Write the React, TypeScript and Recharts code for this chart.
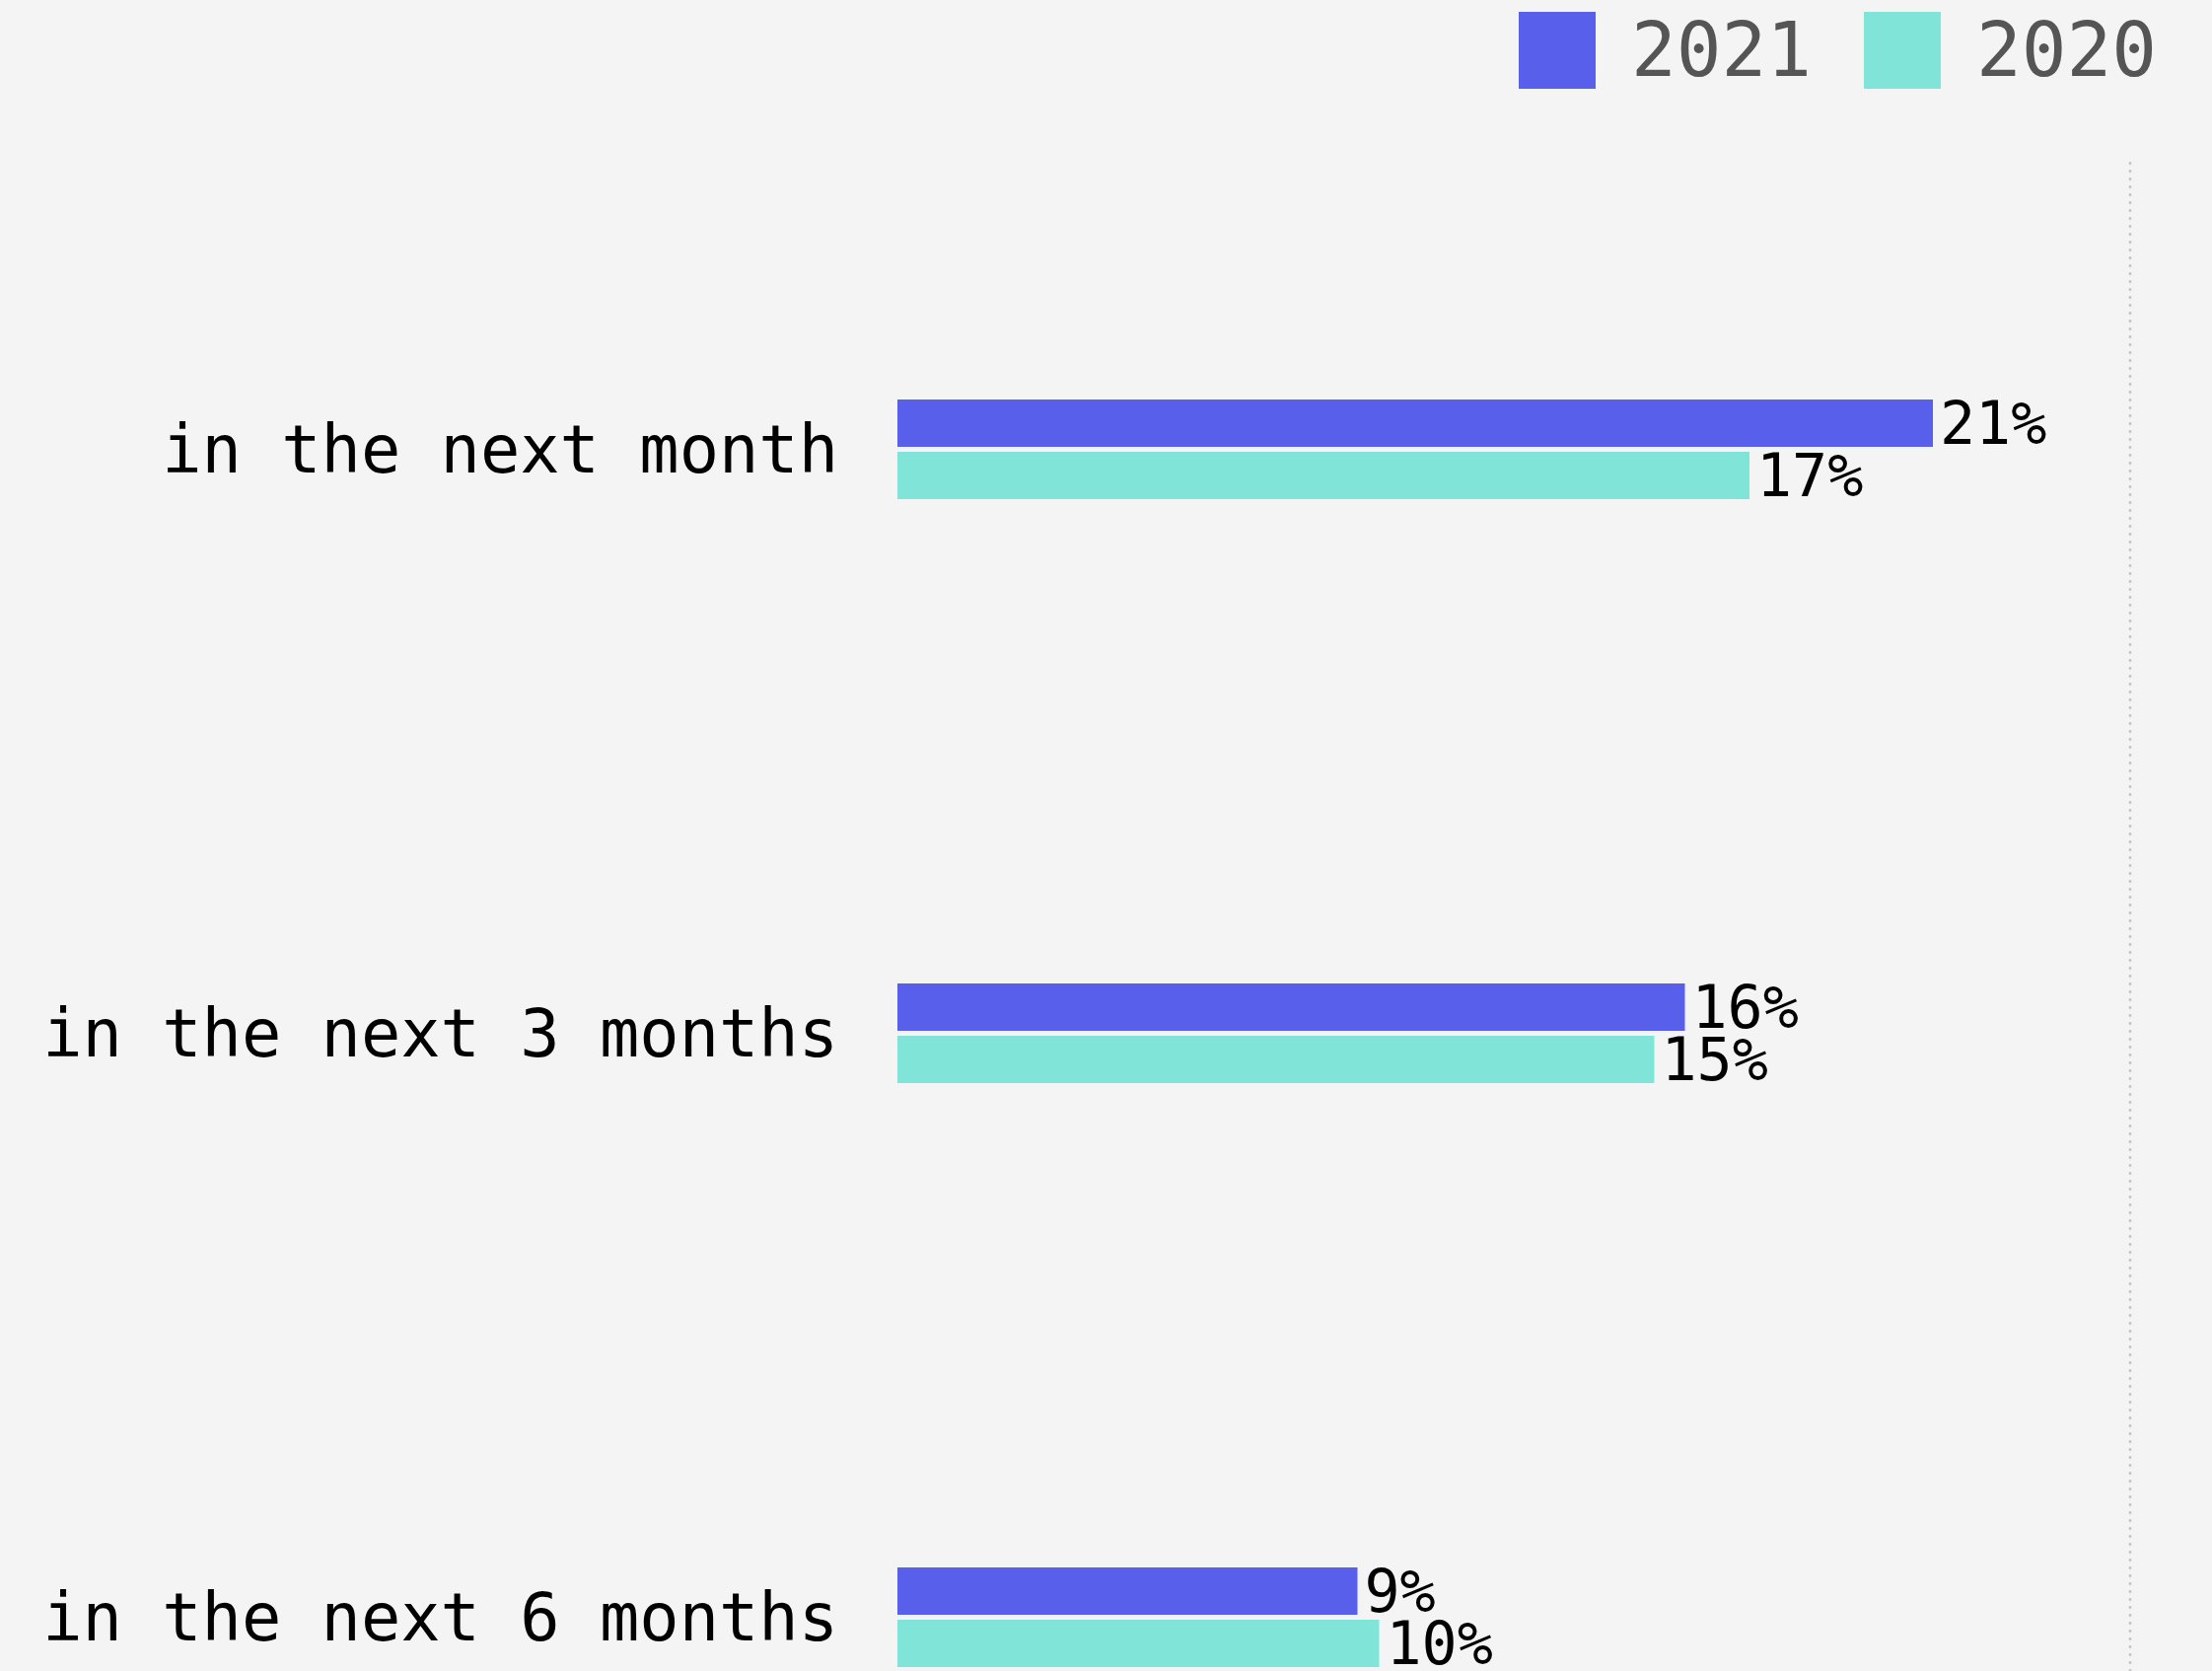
import React from 'react';
import { BarChart, Bar, XAxis, YAxis, LabelList, ReferenceLine, Legend } from 'recharts';

const categories = ['in the next month', 'in the next 3 months', 'in the next 6 months'];
const values2021 = [21.0, 15.97, 9.33];
const values2020 = [17.28, 15.35, 9.77];
const xDomain = [0, 25];

const FONT = '"DejaVu Sans Mono", monospace';
const COLOR_2021 = '#5860eb';
const COLOR_2020 = '#80e5d8';

const legendItems = [
  { label: '2021', color: COLOR_2021 },
  { label: '2020', color: COLOR_2020 },
];

const chartData = categories.map((name, i) => ({
  name,
  y2021: values2021[i],
  y2020: values2020[i],
}));

function LegendContent() {
  return (
    <div style={{ display: 'flex', alignItems: 'center', height: 78 }}>
      {legendItems.map((item, index) => (
        <div
          key={`legend-${index}`}
          style={{ display: 'flex', alignItems: 'center', marginLeft: index === 0 ? 0 : 53 }}
        >
          <div style={{ width: 78, height: 78, background: item.color }} />
          <span
            style={{
              marginLeft: 36,
              fontFamily: FONT,
              fontSize: 76,
              lineHeight: '78px',
              color: '#555555',
            }}
          >
            {item.label}
          </span>
        </div>
      ))}
    </div>
  );
}

const percent = (v: any) => `${Math.round(Number(v))}%`;

export default function App() {
  return (
    <div
      style={{
        position: 'fixed',
        top: 0,
        left: 0,
        width: 2243,
        height: 1694,
        overflow: 'hidden',
        background: '#f4f4f4',
      }}
    >
      <BarChart
        width={2243}
        height={1940}
        data={chartData}
        layout="vertical"
        margin={{ top: 81, right: 83, bottom: 5, left: 0 }}
        barSize={48}
        barGap={5}
      >
        <XAxis type="number" domain={xDomain} hide />
        <YAxis
          type="category"
          dataKey="name"
          width={910}
          axisLine={false}
          tickLine={false}
          tickSize={0}
          tickMargin={60}
          tick={{ fontSize: 67, fill: '#000000', fontFamily: FONT }}
        />
        <ReferenceLine x={25} stroke="#c8c8c8" strokeWidth={2.5} strokeDasharray="3 5" />
        <Legend
          verticalAlign="top"
          align="right"
          content={<LegendContent />}
          wrapperStyle={{ top: 12, right: 56, left: 'auto', width: 'auto' }}
        />
        <Bar dataKey="y2021" name="2021" fill={COLOR_2021} isAnimationActive={false}>
          <LabelList
            dataKey="y2021"
            position="right"
            offset={7}
            formatter={percent}
            style={{ fontSize: 60, fill: '#000000', fontFamily: FONT }}
          />
        </Bar>
        <Bar dataKey="y2020" name="2020" fill={COLOR_2020} isAnimationActive={false}>
          <LabelList
            dataKey="y2020"
            position="right"
            offset={7}
            formatter={percent}
            style={{ fontSize: 60, fill: '#000000', fontFamily: FONT }}
          />
        </Bar>
      </BarChart>
    </div>
  );
}
